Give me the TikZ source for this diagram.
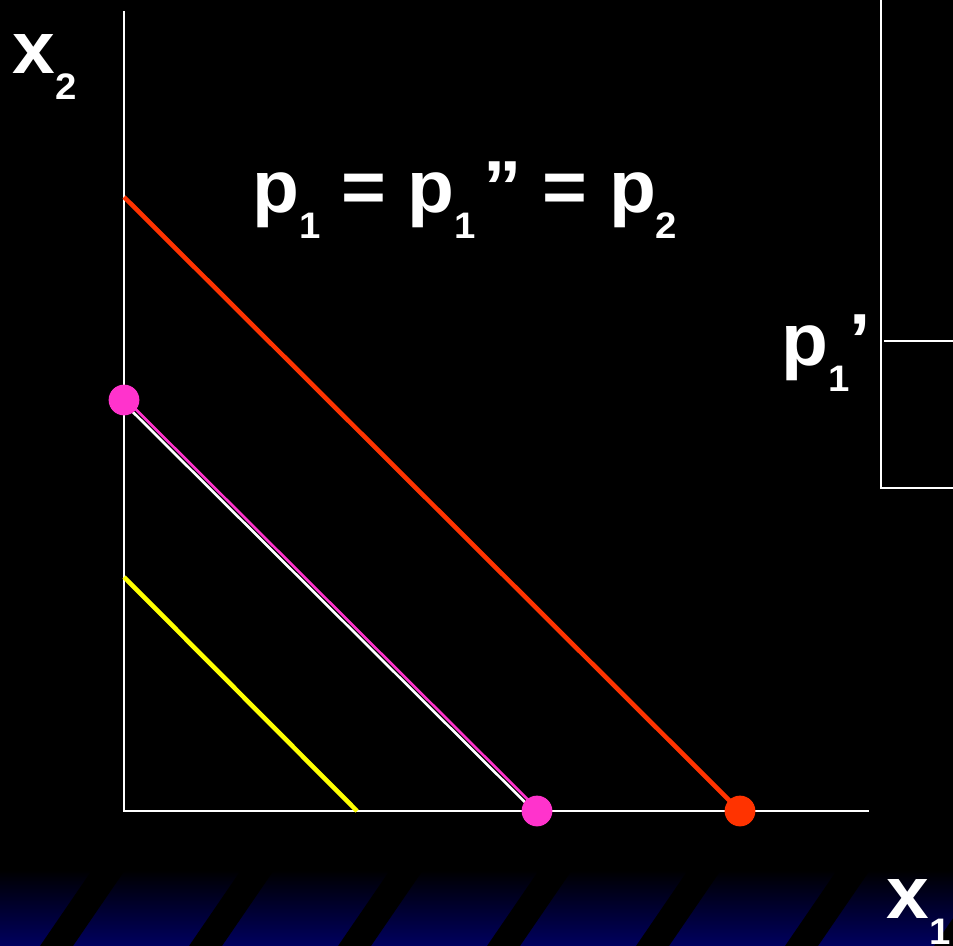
\documentclass[tikz,border=0pt]{standalone}
\usepackage{fontspec}
\setmainfont{Liberation Sans}[FakeStretch=1.04]
\usepackage{tikz}
\usetikzlibrary{calc, positioning}

\definecolor{mauDo}{RGB}{255,51,0}
\definecolor{mauHong}{RGB}{255,51,204}
\definecolor{mauVang}{RGB}{255,255,0}
\definecolor{mauXanh}{RGB}{0,0,95}
\newcommand{\chiso}[1]{\raisebox{-15pt}{\fontsize{21}{21}\selectfont #1}}

\begin{document}
\begin{tikzpicture}[x=0.02cm, y=-0.02cm,
    nhan/.style={inner sep=0pt, anchor=base west, text=white,
        font=\fontsize{42}{50}\selectfont\bfseries},
    truc/.style={white, line width=1.6pt},
    duong/.style={line width=2.6pt},
    cham/.style={circle, inner sep=0pt, minimum size=17.5pt}]
    % Nền đen và dải sọc xanh phía dưới
    \clip (0,0) rectangle (953,946);
    \fill[black] (0,0) rectangle (953,946);
    \shade[top color=black, bottom color=mauXanh] (0,870) rectangle (953,946);
    \foreach \x in {40,189,...,934}
        \fill[black] (\x,946) -- ++(33,0) -- ++(52,-76) -- ++(-33,0) -- cycle;

    % Hai trục toạ độ
    \coordinate (goc) at (124,811);
    \coordinate (dinhTruc2) at (124,11);
    \coordinate (cuoiTruc1) at (869,811);
    \draw[truc] (dinhTruc2) -- (goc) -- (cuoiTruc1);

    % Khung bên phải
    \coordinate (khungTren) at (881,0);
    \coordinate (khungDuoi) at (881,488);
    \coordinate (khungPhai) at (953,488);
    \coordinate (mucTrai) at (884,341);
    \coordinate (mucPhai) at (953,341);
    \draw[truc] (khungTren) -- (khungDuoi) -- (khungPhai);
    \draw[truc] (mucTrai) -- (mucPhai);

    % Các đường ngân sách
    \coordinate (doTren) at (124,197);
    \coordinate (doDuoi) at (740,811);
    \coordinate (hongTren) at (124,400);
    \coordinate (hongDuoi) at (537,811);
    \coordinate (vangTren) at (124,577);
    \coordinate (vangDuoi) at (357,811);
    \draw[duong, mauDo] (doTren) -- (doDuoi);
    \draw[white, line width=1.5pt] ([shift={(-1.6,1.6)}]hongTren) -- ([shift={(-1.6,1.6)}]hongDuoi);
    \draw[mauHong, line width=1.5pt] ([shift={(1.2,-1.2)}]hongTren) -- ([shift={(1.2,-1.2)}]hongDuoi);
    \draw[duong, mauVang] (vangTren) -- (vangDuoi);

    % Các điểm
    \node[cham, fill=mauHong] (diemHong2) at (hongTren) {};
    \node[cham, fill=mauHong] (diemHong1) at (hongDuoi) {};
    \node[cham, fill=mauDo] (diemDo1) at (doDuoi) {};

    % Nhãn
    \node[nhan] (nhanX2) at (12,73) {x\chiso{2}};
    \node[nhan] (tieuDe) at (252,212) {p\chiso{1} = p\chiso{1}\hspace{4pt}” = p\chiso{2}};
    \node[nhan] (nhanP1) at (781,365) {p\chiso{1}’};
    \node[nhan] (nhanX1) at (886,918) {x\chiso{1}};
\end{tikzpicture}
\end{document}
